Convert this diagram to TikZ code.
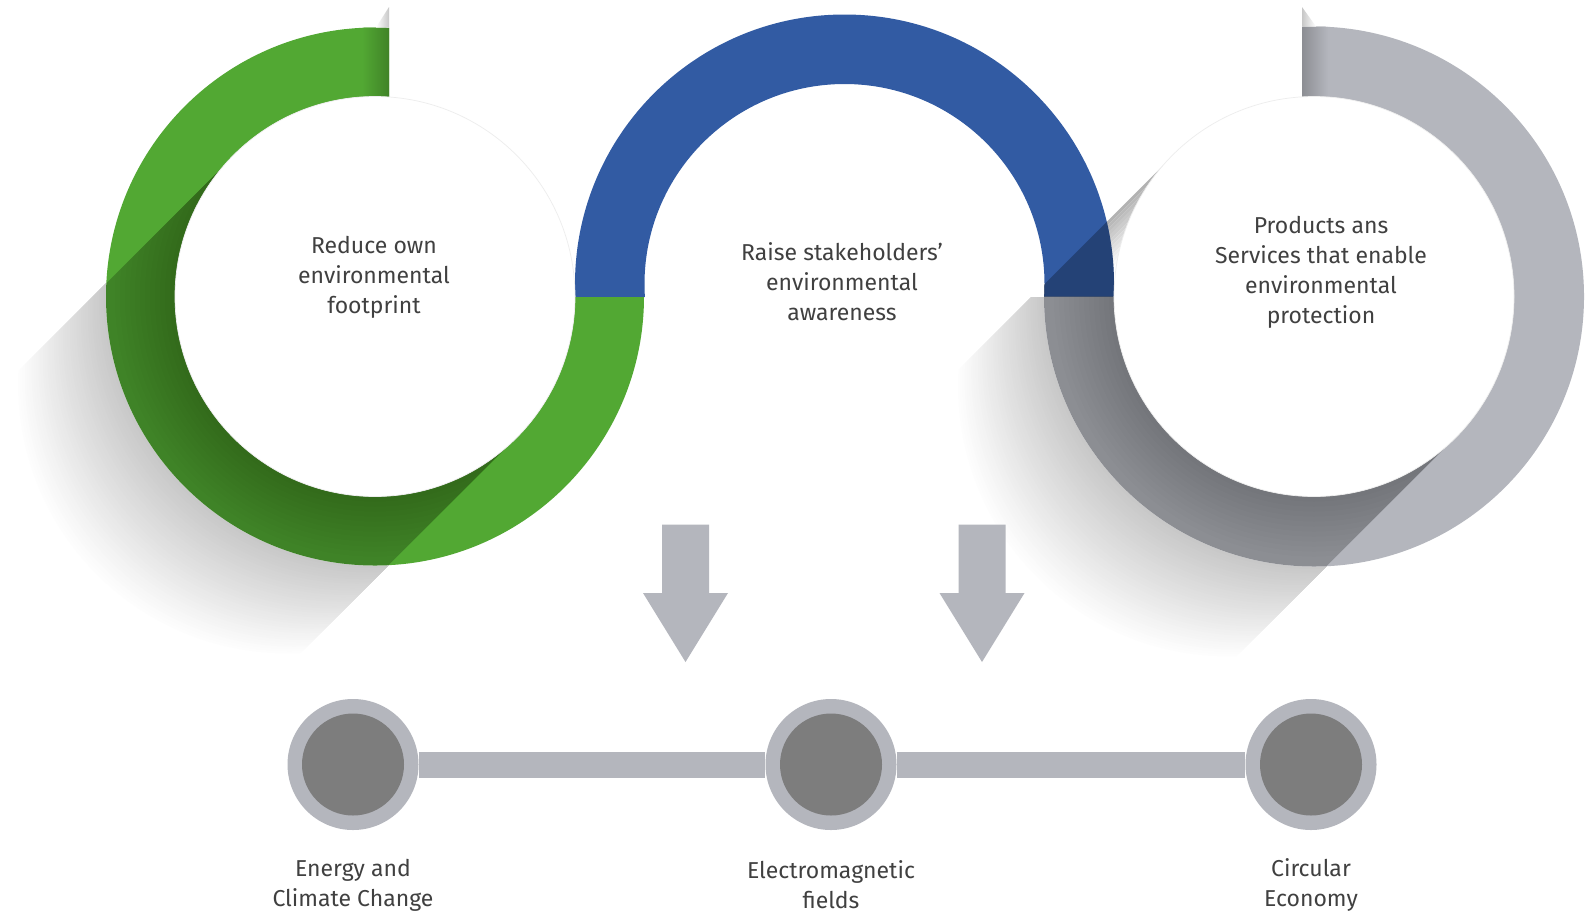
\documentclass[tikz,border=0pt]{standalone}
\usepackage{fontspec}
\setmainfont{Fira Sans}
\definecolor{gGreen}{HTML}{52A833}
\definecolor{gBlue}{HTML}{325BA3}
\definecolor{gGray}{HTML}{B4B6BD}
\definecolor{gDark}{HTML}{7D7D7D}
\definecolor{gText}{HTML}{404040}
\begin{document}
\begin{tikzpicture}[x=1pt,y=-1pt,
  lbl/.style={text=gText, align=center, font=\fontsize{23}{30}\selectfont, inner sep=0pt},
  disc/.style={circle, fill=white, draw=black!7, line width=0.7pt, minimum size=400pt, inner sep=0pt},
  outerdot/.style={circle, fill=gGray, minimum size=131pt, inner sep=0pt},
  innerdot/.style={circle, fill=gDark, minimum size=102pt, inner sep=0pt},
  tline/.style={draw=gGray, line width=26pt},
  arrowfill/.style={fill=gGray},
  shadeband/.style={fill=black, fill opacity=0.27},
  shadebase/.style={fill=black, fill opacity=0.22},
  shadestep/.style={fill=black, fill opacity=0.01}]
\useasboundingbox (0,0) rectangle (1589,914);
\fill[white] (0,0) rectangle (1589,914);
% soft long shadows, limited to the band cast by each inner disc
\begin{scope}
  \clip (234,155.5) -- (-366,755.5) -- (-84,1037.5) -- (516,437.5) -- cycle;
  \foreach \i in {40,39,...,1}{
    \pgfmathsetmacro\t{\i/40}
    \pgfmathsetmacro\k{22*(1-\t)}
    \fill[black!\k] ({375-90*\t},{296.5+90*\t}) circle[radius=269pt];
  }
\end{scope}
\begin{scope}
  \clip (1173,155.5) -- (573,755.5) -- (855,1037.5) -- (1455,437.5) -- cycle;
  \foreach \i in {40,39,...,1}{
    \pgfmathsetmacro\t{\i/40}
    \pgfmathsetmacro\k{22*(1-\t)}
    \fill[black!\k] ({1314-88*\t},{296.5+92*\t}) circle[radius=270pt];
  }
\end{scope}
\fill[white] (375,296.5) circle[radius=269pt];
\fill[white] (1314,296.5) circle[radius=270pt];
\begin{scope}
  \clip (0,0) rectangle (1589,296.5);
  \fill[white] (844.5,284) circle[radius=269.5pt];
\end{scope}
% wedge shadow of grey inner disc on background
\begin{scope}
  \clip (1314,296.5) circle[radius=270pt];
  \clip (0,0) rectangle (1314,296.5);
  \clip (1173,155.5) -- (573,755.5) -- (855,1037.5) -- (1455,437.5) -- cycle;
  \foreach \i in {0,...,11}{
    \pgfmathsetmacro\a{\i*3/1.41421}
    \pgfmathsetmacro\b{(\i+1)*3/1.41421}
    \pgfmathsetmacro\k{30*(1-\i/12)}
    \fill[black!\k] ({1173+\a+300},{155.5+\a-300}) -- ({1173+\a-300},{155.5+\a+300})
      -- ({1173+\b-300},{155.5+\b+300}) -- ({1173+\b+300},{155.5+\b-300}) -- cycle;
  }
\end{scope}
% rings
\begin{scope}
  \clip (0,0) -- (389,0) -- (389,296.5) -- (1589,296.5) -- (1589,914) -- (0,914) -- cycle;
  \fill[gGreen, even odd rule] (375,296.5) circle[radius=269pt] (375,296.5) circle[radius=200pt];
\end{scope}
\begin{scope}
  \clip (0,0) rectangle (1589,296.5);
  \fill[gBlue, even odd rule] (844.5,284) circle[radius=269.5pt] (844.5,284) circle[radius=200pt];
\end{scope}
\begin{scope}
  \clip (1302,0) -- (1589,0) -- (1589,914) -- (0,914) -- (0,296.5) -- (1302,296.5) -- cycle;
  \fill[gGray, even odd rule] (1314,296.5) circle[radius=270pt] (1314,296.5) circle[radius=200pt];
\end{scope}
% dark bands cast by the inner discs
\begin{scope}
  \clip (0,0) -- (389,0) -- (389,296.5) -- (1589,296.5) -- (1589,914) -- (0,914) -- cycle;
  \clip (375,296.5) circle[radius=269pt];
  \path[shadebase] (234,155.5) -- (-366,755.5) -- (-84,1037.5) -- (516,437.5) -- cycle;
  \foreach \k in {1,...,12}{
    \begin{scope}
      \clip (375,296.5) circle[radius={(200+5*\k)*1pt}];
      \path[shadestep] (234,155.5) -- (-366,755.5) -- (-84,1037.5) -- (516,437.5) -- cycle;
    \end{scope}
  }
  \shade[left color=gGreen, right color=gGreen!78!black] (362,20) rectangle (389,100);
\end{scope}
\begin{scope}
  \clip (1302,0) -- (1589,0) -- (1589,914) -- (0,914) -- (0,296.5) -- (1302,296.5) -- cycle;
  \clip (1314,296.5) circle[radius=270pt];
  \path[shadebase] (1173,155.5) -- (573,755.5) -- (855,1037.5) -- (1455,437.5) -- cycle;
  \foreach \k in {1,...,12}{
    \begin{scope}
      \clip (1314,296.5) circle[radius={(200+5*\k)*1pt}];
      \path[shadestep] (1173,155.5) -- (573,755.5) -- (855,1037.5) -- (1455,437.5) -- cycle;
    \end{scope}
  }
  \shade[left color=gGray!78!black, right color=gGray] (1302,20) rectangle (1328,100);
\end{scope}
\begin{scope}
  \clip (0,0) rectangle (1589,296.5);
  \clip (844.5,284) circle[radius=269.5pt];
  \clip (1314,296.5) circle[radius=270pt];
  \path[shadeband] (1173,155.5) -- (573,755.5) -- (855,1037.5) -- (1455,437.5) -- cycle;
\end{scope}
% curled ends
\shade[left color=white, right color=black!22] (376,27.5) -- (389,7) -- (389,27.5) -- cycle;
\shade[left color=black!22, right color=white] (1302,7) -- (1302,26.5) -- (1316,26.5) -- cycle;
% inner discs
\node[disc] (gdisc) at (375,296.5) {};
\node[disc] (ydisc) at (1314,296.5) {};
% texts
\node[lbl] (t1) at (374,277) {Reduce own\\environmental\\footprint};
\node[lbl] (t2) at (842,282) {Raise stakeholders’\\environmental\\awareness};
\node[lbl] (t3) at (1321,272.5) {Products ans\\Services that enable\\environmental\\protection};
% arrows
\fill[arrowfill] (662,524.5) -- (709,524.5) -- (709,593) -- (728,593) -- (685.5,662) -- (643,593) -- (662,593) -- cycle;
\fill[arrowfill] (958.5,524.5) -- (1005.5,524.5) -- (1005.5,593) -- (1024.5,593) -- (982,662) -- (939.5,593) -- (958.5,593) -- cycle;
% timeline
\node[outerdot] (d1) at (353,764.5) {};
\node[outerdot] (d2) at (831,764.5) {};
\node[outerdot] (d3) at (1311,764.5) {};
\draw[tline] (d1) -- (d2);
\draw[tline] (d2) -- (d3);
\node[innerdot] (d1i) at (d1) {};
\node[innerdot] (d2i) at (d2) {};
\node[innerdot] (d3i) at (d3) {};
\node[lbl] (l1) at (353,885) {Energy and\\Climate Change};
\node[lbl] (l2) at (831,885) {Electromagnetic\\fields};
\node[lbl] (l3) at (1311,885) {Circular\\Economy};
\end{tikzpicture}
\end{document}
